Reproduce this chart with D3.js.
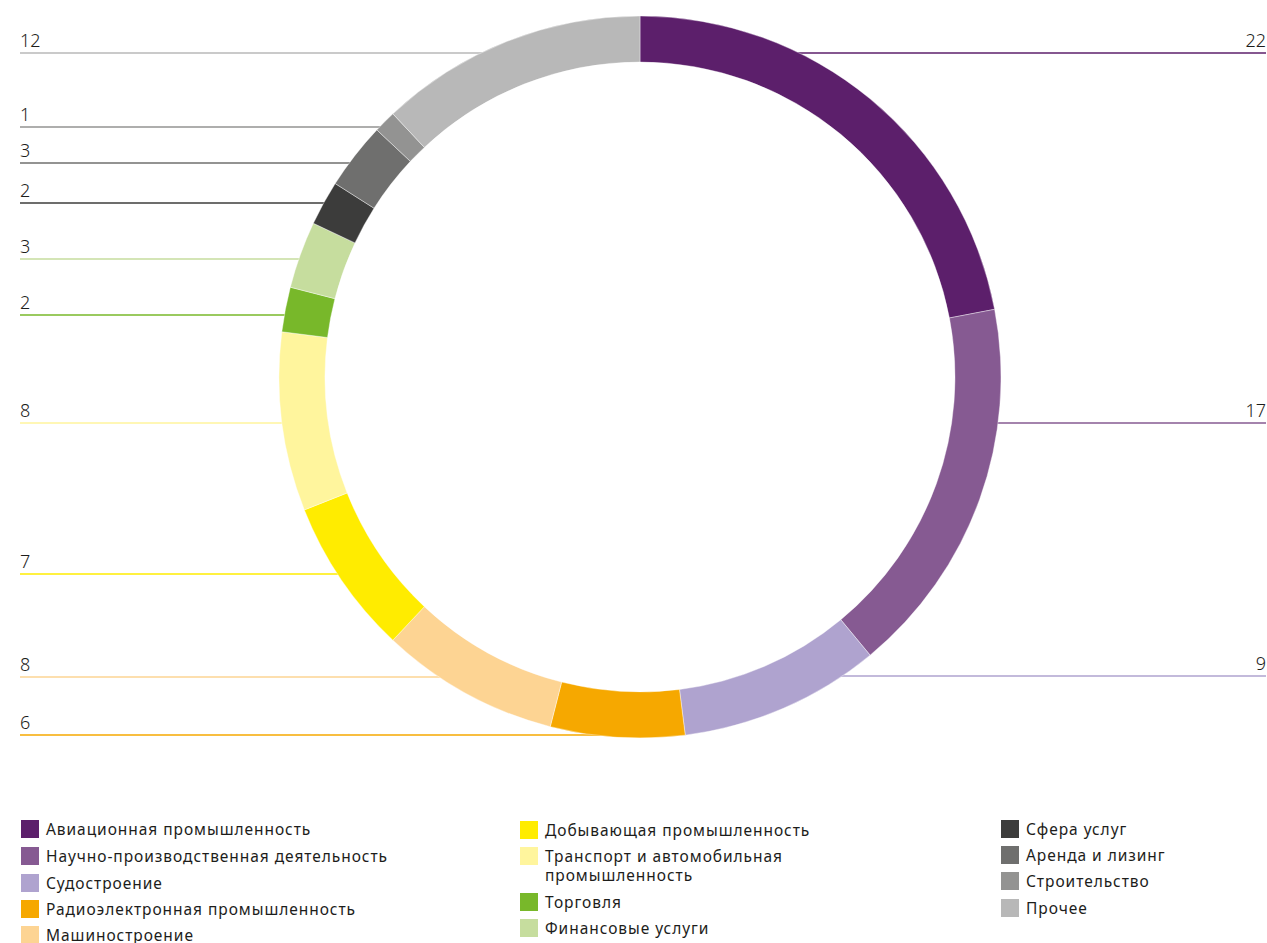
<!DOCTYPE html>
<html><head><meta charset="utf-8">
<script src="https://cdn.jsdelivr.net/npm/d3@7"></script>
<style>
html,body{margin:0;padding:0;background:#fff;}
svg{display:block;font-family:"Noto Sans",sans-serif;}
</style></head>
<body><svg id="chart" width="1267" height="943"></svg>
<script>
// ---- data ----
const categories = [
  "Авиационная промышленность",
  "Научно-производственная деятельность",
  "Судостроение",
  "Радиоэлектронная промышленность",
  "Машиностроение",
  "Добывающая промышленность",
  "Транспорт и автомобильная промышленность",
  "Торговля",
  "Финансовые услуги",
  "Сфера услуг",
  "Аренда и лизинг",
  "Строительство",
  "Прочее"
];
const values = [22, 17, 9, 6, 8, 7, 8, 2, 3, 2, 3, 1, 12];
const colors = ["#5c1f6b","#865a92","#afa3cf","#f6a800","#fdd493","#ffec00","#fff59d","#78b82a","#c6dd9e","#3c3c3b","#6f6f6e","#939392","#b8b8b8"];
const legendLines = [
  ["Авиационная промышленность"],
  ["Научно-производственная деятельность"],
  ["Судостроение"],
  ["Радиоэлектронная промышленность"],
  ["Машиностроение"],
  ["Добывающая промышленность"],
  ["Транспорт и автомобильная","промышленность"],
  ["Торговля"],
  ["Финансовые услуги"],
  ["Сфера услуг"],
  ["Аренда и лизинг"],
  ["Строительство"],
  ["Прочее"]
];

// ---- layout ----
const W = 1267, cx = 640, cy = 377, R = 361, r = 315;
const leaderY = [53, 423, 676, 735, 677, 574, 423, 315, 259, 203, 163, 127, 53];
const legendCols = [
  {x: 21, y0: 829, items: [0,1,2,3,4], rowY: [0,27,54,80,106]},
  {x: 520, y0: 830, items: [5,6,7,8], rowY: [0,26,72,98]},
  {x: 1001, y0: 829, items: [9,10,11,12], rowY: [0,26,52,79]}
];

const svg = d3.select("#chart");
const data = categories.map((c,i)=>({name:c, value:values[i], color:colors[i], i}));
const pie = d3.pie().value(d=>d.value).sort(null);
const arcs = pie(data);
const arc = d3.arc().innerRadius(r).outerRadius(R);

// leader lines (behind donut)
const gL = svg.append("g");
arcs.forEach(a=>{
  const mid = (a.startAngle + a.endAngle)/2;
  const right = Math.sin(mid) > 0;
  const y = leaderY[a.data.i];
  const dy = y - cy;
  const dx = Math.sqrt(Math.max(0, R*R - dy*dy));
  const inner = Math.max(0, dx - 12);
  const xEnd = right ? cx + inner : cx - inner;
  gL.append("line")
    .attr("x1", right ? W-1 : 20).attr("x2", xEnd)
    .attr("y1", y).attr("y2", y)
    .attr("stroke", a.data.color).attr("stroke-width", 1.4);
  gL.append("text")
    .attr("x", right ? W-1 : 20).attr("y", y-6)
    .attr("text-anchor", right ? "end" : "start")
    .attr("font-size", 18).attr("fill","#1d1d1b").attr("font-weight",300)
    .text(a.data.value);
});

// donut
svg.append("g").attr("transform",`translate(${cx},${cy})`)
  .selectAll("path").data(arcs).join("path")
  .attr("d", arc).attr("fill", d=>d.data.color)
  .attr("stroke", "#fff").attr("stroke-width", 0.4);

// legend
const gLeg = svg.append("g");
legendCols.forEach(col=>{
  col.items.forEach((idx,k)=>{
    const y = col.y0 + col.rowY[k];
    gLeg.append("rect").attr("x", col.x).attr("y", y-9).attr("width",18).attr("height",18).attr("fill", colors[idx]);
    legendLines[idx].forEach((ln,j)=>{
      gLeg.append("text").attr("x", col.x+25).attr("y", y+5.5+j*19)
        .attr("font-size", 15.5).attr("letter-spacing", 0.95).attr("fill","#1d1d1b")
        .text(ln);
    });
  });
});
</script></body></html>
